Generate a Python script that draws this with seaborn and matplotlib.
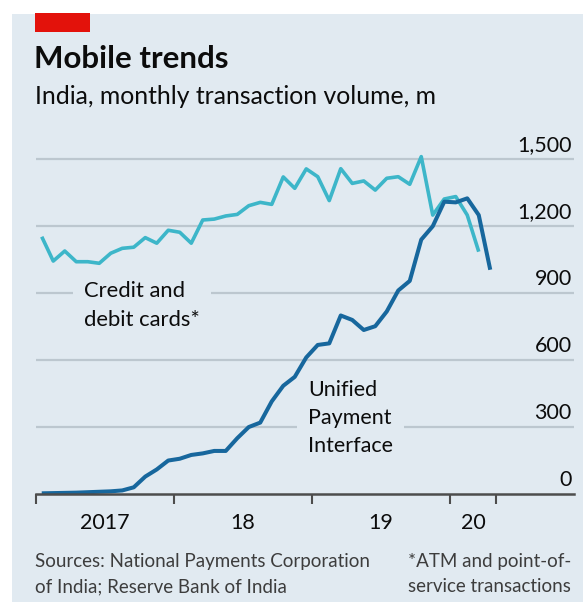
import matplotlib
matplotlib.use("Agg")
import matplotlib.pyplot as plt
from matplotlib.patches import Rectangle
from matplotlib import transforms
import numpy as np
import pandas as pd
import seaborn as sns

# ---- data -----------------------------------------------------------------
months = pd.period_range("2017-01", "2020-04", freq="M")

# Credit and debit cards (ATM + point-of-service), m transactions, Jan 2017 - Mar 2020
cards = [1153, 1044, 1089, 1041, 1041, 1034, 1079, 1101, 1106, 1149, 1124, 1182,
         1173, 1124, 1228, 1232, 1246, 1253, 1292, 1307, 1298, 1421, 1370, 1457,
         1422, 1315, 1458, 1392, 1403, 1362, 1415, 1422, 1388, 1512, 1250, 1322,
         1333, 1250, 1086]

# Unified Payment Interface, m transactions, Jan 2017 - Apr 2020
upi = [3, 4, 5, 6, 8, 10, 12, 16, 30, 78, 110, 150,
       158, 175, 182, 193, 193, 250, 300, 320, 415, 485, 525, 612,
       668, 675, 800, 780, 735, 752, 818, 912, 955, 1140, 1200, 1310,
       1307, 1325, 1250, 1005]

y_ticks = [0, 300, 600, 900, 1200, 1500]
year_labels = ["2017", "18", "19", "20"]

# ---- styling ----------------------------------------------------------------
BG = "#e1eaf1"
LIGHT = "#3db6c9"
DARK = "#17679d"
GRID = "#bcc7cf"
AXIS = "#4d4d4d"
TEXT = "#0c0c0c"
NOTE = "#3d3d3d"

W, H = 583, 602

sns.set_theme(style="white")
plt.rcParams["font.family"] = ["Lato", "DejaVu Sans"]

fig = plt.figure(figsize=(W / 100, H / 100), dpi=100)
fig.patch.set_facecolor("white")


def fx(px):
    return px / W


def fy(py):
    return 1 - py / H


# panel background and red tag
fig.add_artist(Rectangle((fx(12), 0), 1 - fx(12), fy(13.5), transform=fig.transFigure,
                         facecolor=BG, edgecolor="none", zorder=-2))
fig.add_artist(Rectangle((fx(35), fy(32)), fx(90) - fx(35), fy(13.5) - fy(32),
                         transform=fig.transFigure, facecolor="#e3120b",
                         edgecolor="none", zorder=-1))

fig.text(fx(34), fy(68.5), "Mobile trends", fontsize=22.5, fontweight="bold",
         color=TEXT, va="baseline", ha="left")
fig.text(fx(35), fy(103.5), "India, monthly transaction volume, m", fontsize=17.8,
         color=TEXT, va="baseline", ha="left")

# ---- axes -------------------------------------------------------------------
px_per_month = 11.5
ax_left, ax_right, ax_bottom, ax_top = 36, 574, 494, 140
ax = fig.add_axes([fx(ax_left), fy(ax_bottom), fx(ax_right - ax_left),
                   (ax_bottom - ax_top) / H])
ax.set_facecolor("none")

start = months[0]
pos = np.array([(m - start).n for m in months]) + 0.5
df = pd.concat([
    pd.DataFrame({"x": pos[:len(cards)], "value": cards, "series": "cards"}),
    pd.DataFrame({"x": pos[:len(upi)], "value": upi, "series": "upi"}),
])

sns.lineplot(data=df[df.series == "cards"], x="x", y="value", color=LIGHT,
             linewidth=2.6, ax=ax, zorder=4, solid_joinstyle="round",
             solid_capstyle="butt")
sns.lineplot(data=df[df.series == "upi"], x="x", y="value", color=DARK,
             linewidth=2.9, ax=ax, zorder=5, solid_joinstyle="round",
             solid_capstyle="butt")

px_per_unit = (494 - 159.3) / 1500
ax.set_xlim(0, (ax_right - ax_left) / px_per_month)
ax.set_ylim(0, (ax_bottom - ax_top) / px_per_unit)

for s in ["top", "right", "left"]:
    ax.spines[s].set_visible(False)
ax.spines["bottom"].set_color(AXIS)
ax.spines["bottom"].set_linewidth(1.8)
ax.spines["bottom"].set_zorder(6)

# horizontal grid with value labels sitting on the right end of each line
ax.set_yticks([])
label_tr = transforms.offset_copy(ax.get_yaxis_transform(), fig=fig, x=0, y=4, units="dots")
for v in y_ticks:
    if v > 0:
        ax.axhline(v, color=GRID, linewidth=1.6, zorder=1)
    ax.text(0.996, v, f"{v:,}", transform=label_tr, ha="right", va="bottom",
            fontsize=15.5, color=TEXT, zorder=3)

# year boundaries as ticks, year names centred between them
ax.set_xticks([0, 12, 24, 36, 40])
ax.set_xticklabels([])
ax.set_xticks([6, 18, 30, 38], minor=True)
ax.set_xticklabels(year_labels, minor=True)
ax.tick_params(axis="x", which="major", length=7.5, width=1.5, color=AXIS,
               direction="out", bottom=True)
ax.tick_params(axis="x", which="minor", length=0, pad=14, labelsize=15.5,
               labelcolor=TEXT)
ax.set_xlabel("")
ax.set_ylabel("")


def px_to_value(py):
    return (ax_bottom - py) / px_per_unit


# series labels, boxed in the panel colour so grid lines break around them
box = dict(facecolor=BG, edgecolor="none", pad=8)
ax.text(4.2, px_to_value(326.5), "Credit and\ndebit cards*", fontsize=15.8,
        color=TEXT, ha="left", va="baseline", linespacing=1.6, bbox=box, zorder=2)
ax.text(23.65, px_to_value(451.5), "Unified\nPayment\nInterface", fontsize=15.5,
        color=TEXT, ha="left", va="baseline", linespacing=1.5, bbox=box, zorder=2)

# footer
fig.text(fx(35), fy(567), "Sources: National Payments Corporation",
         fontsize=13.5, color=NOTE, ha="left", va="baseline")
fig.text(fx(35), fy(592.5), "of India; Reserve Bank of India",
         fontsize=13.5, color=NOTE, ha="left", va="baseline")
fig.text(fx(571), fy(567), "*ATM and point-of-",
         fontsize=13.5, color=NOTE, ha="right", va="baseline")
fig.text(fx(571), fy(592.5), "service transactions",
         fontsize=13.5, color=NOTE, ha="right", va="baseline")

fig.savefig("out.png", dpi=100, facecolor=fig.get_facecolor())
